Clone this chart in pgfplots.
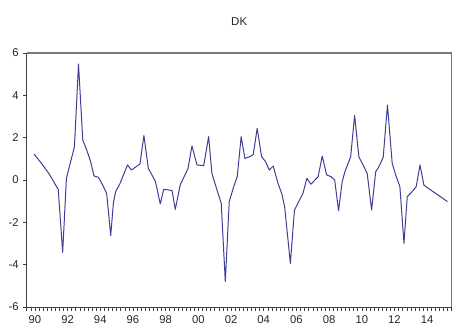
\documentclass[border=0pt]{standalone}
\usepackage{pgfplots}
\pgfplotsset{compat=1.18}
\usepackage{fontspec}
\setmainfont{Liberation Sans}
\definecolor{linecol}{RGB}{62,62,150}
\definecolor{framegray}{RGB}{120,120,120}
\begin{document}
\begin{tikzpicture}
\path[use as bounding box] (-26.7bp,-24bp) rectangle (437.3bp,307bp);
\begin{axis}[
  at={(0,0)}, anchor=south west,
  scale only axis, width=425bp, height=254bp,
  xmin=1990, xmax=2016, ymin=-6, ymax=6,
  axis x line*=bottom, axis y line*=left,
  axis line style={-, draw=black!75, line width=0.6pt},
  xtick={1990.5,1992.5,1994.5,1996.5,1998.5,2000.5,2002.5,2004.5,2006.5,2008.5,2010.5,2012.5,2014.5},
  xticklabels={90,92,94,96,98,00,02,04,06,08,10,12,14},
  minor xtick={1990,1990.25,...,2016},
  ytick={-6,-4,-2,0,2,4,6},
  yticklabels={-6,-4,-2,0,2,4,6},
  tick align=outside,
  major tick length=3.5bp, minor tick length=3.5bp,
  tick style={black!75, line width=0.5pt},
  every tick label/.append style={font=\fontsize{11.3}{13}\selectfont, text=black!85},
  xticklabel style={yshift=-1.5bp},
  yticklabel style={xshift=-1bp},
  title={DK},
  title style={at={(0.5,1)}, anchor=base, yshift=22bp, font=\fontsize{11.5}{13}\selectfont, text=black!85},
  clip=false,
]
\addplot[linecol, line width=1bp, line join=round] coordinates {
(1990.45,1.23) (1990.98,0.71) (1991.38,0.28) (1991.93,-0.45) (1992.20,-3.42)
(1992.43,0.08) (1992.65,0.75) (1992.92,1.57) (1993.17,5.48) (1993.43,1.89)
(1993.67,1.42) (1993.91,0.87) (1994.12,0.19) (1994.38,0.13) (1994.65,-0.24)
(1994.89,-0.63) (1995.14,-2.62) (1995.31,-1.05) (1995.44,-0.55) (1995.69,-0.20)
(1995.92,0.24) (1996.17,0.71) (1996.41,0.47) (1996.93,0.76) (1997.17,2.10)
(1997.44,0.55) (1997.66,0.24) (1997.88,-0.08) (1998.17,-1.13) (1998.38,-0.44)
(1998.67,-0.47) (1998.89,-0.50) (1999.09,-1.39) (1999.39,-0.24) (1999.87,0.55)
(2000.11,1.61) (2000.42,0.71) (2000.83,0.68) (2001.13,2.05) (2001.33,0.31)
(2001.64,-0.47) (2001.90,-1.10) (2002.15,-4.80) (2002.39,-1.02) (2002.65,-0.35)
(2002.88,0.16) (2003.12,2.05) (2003.35,1.02) (2003.64,1.10) (2003.86,1.20)
(2004.10,2.44) (2004.37,1.10) (2004.61,0.87) (2004.84,0.47) (2005.08,0.66)
(2005.39,-0.20) (2005.60,-0.63) (2005.78,-1.26) (2006.13,-3.94) (2006.38,-1.42)
(2006.59,-1.10) (2006.90,-0.63) (2007.14,0.08) (2007.39,-0.20) (2007.83,0.16)
(2008.08,1.13) (2008.35,0.24) (2008.61,0.16) (2008.84,0.00) (2009.08,-1.45)
(2009.30,-0.08) (2009.47,0.40) (2009.82,1.10) (2010.06,3.05) (2010.32,1.10)
(2010.63,0.63) (2010.83,0.31) (2011.10,-1.42) (2011.35,0.39) (2011.55,0.63)
(2011.81,1.07) (2012.07,3.54) (2012.36,0.79) (2012.57,0.24) (2012.83,-0.31)
(2013.08,-2.99) (2013.28,-0.79) (2013.58,-0.55) (2013.83,-0.31) (2014.06,0.71)
(2014.30,-0.24) (2014.71,-0.47) (2015.11,-0.68) (2015.74,-1.02)
};
\draw[framegray, line width=1.6bp] (rel axis cs:0,1) -- (rel axis cs:1,1);
\draw[framegray, line width=0.6bp] (rel axis cs:1,0) -- (rel axis cs:1,1);
\end{axis}
\end{tikzpicture}
\end{document}
